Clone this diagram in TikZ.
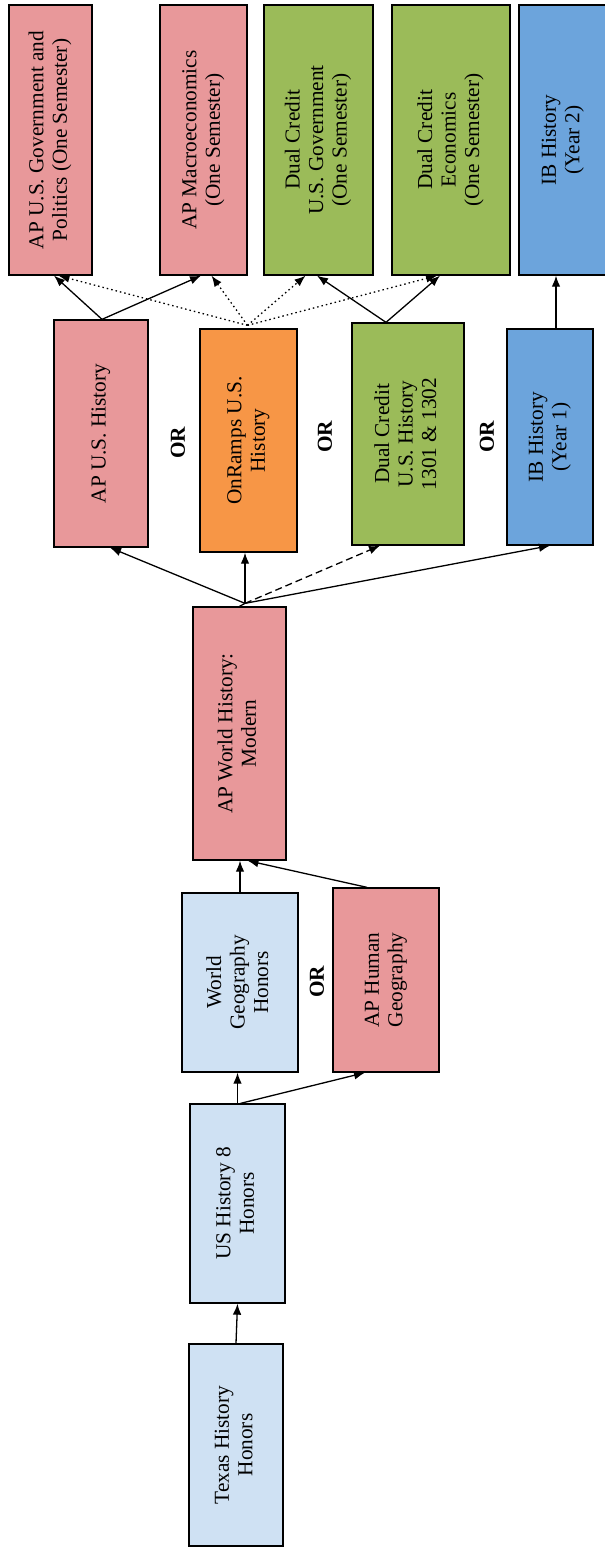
\documentclass[tikz,border=0pt]{standalone}
\usepackage{fontspec}
\setmainfont{Liberation Serif}
\usetikzlibrary{arrows.meta,calc}
\definecolor{pinkc}{HTML}{E8989A}
\definecolor{lblue}{HTML}{CFE1F3}
\definecolor{greenc}{HTML}{9BBB59}
\definecolor{orangec}{HTML}{F79646}
\definecolor{bluec}{HTML}{6CA4DC}
\newcommand{\rtx}[1]{\rotatebox{90}{\begin{tabular}{@{}c@{}}#1\end{tabular}}}
\begin{document}
\begin{tikzpicture}[x=1pt,y=-1pt,
  box/.style={draw=black, line width=1.3pt, inner sep=0pt, text=black, font=\fontsize{21.3}{23.5}\selectfont},
  orlab/.style={inner sep=0pt, font=\fontsize{21.3}{23.5}\selectfont\bfseries},
  arr/.style={-{Latex[length=11pt,width=8.5pt]}, line width=1.3pt},
  dotarr/.style={arr, dash pattern=on 1.5pt off 3pt},
  dasharr/.style={arr, dash pattern=on 7pt off 4pt}]
\useasboundingbox (0,0) rectangle (605,1548);
% top row
\node[box, fill=pinkc, minimum width=83pt, minimum height=270pt] (apgov) at (50.5,140) {\rtx{AP U.S. Government and\\Politics (One Semester)}};
\node[box, fill=pinkc, minimum width=87pt, minimum height=270pt] (apmacro) at (203.5,140) {\rtx{AP Macroeconomics\\(One Semester)}};
\node[box, fill=greenc, minimum width=109pt, minimum height=270pt] (dcgov) at (318.5,140) {\rtx{Dual Credit\\U.S. Government\\(One Semester)}};
\node[box, fill=greenc, minimum width=118pt, minimum height=270pt] (dcecon) at (451,140) {\rtx{Dual Credit\\Economics\\(One Semester)}};
\node[box, fill=bluec, minimum width=88pt, minimum height=270pt] (ibtwo) at (563,140) {\rtx{IB History\\(Year 2)}};
% second row
\node[box, fill=pinkc, minimum width=94pt, minimum height=227pt] (apush) at (101,433.5) {\rtx{AP U.S. History}};
\node[box, fill=orangec, minimum width=97pt, minimum height=223pt] (onramps) at (248.5,440.5) {\rtx{OnRamps U.S.\\History}};
\node[box, fill=greenc, minimum width=112pt, minimum height=222pt] (dchist) at (408,434) {\rtx{Dual Credit\\U.S. History\\1301 \& 1302}};
\node[box, fill=bluec, minimum width=86pt, minimum height=216pt] (ibone) at (550,437) {\rtx{IB History\\(Year 1)}};
\node[orlab] (orA) at (178,443) {\rotatebox{90}{OR}};
\node[orlab] (orB) at (325,437) {\rotatebox{90}{OR}};
\node[orlab] (orC) at (487,437) {\rotatebox{90}{OR}};
% lower part
\node[box, fill=pinkc, minimum width=93pt, minimum height=253pt] (apworld) at (239.5,733.5) {\rtx{AP World History:\\Modern}};
\node[box, fill=lblue, minimum width=116pt, minimum height=179pt] (worldgeo) at (240,982.5) {\rtx{World\\Geography\\Honors}};
\node[box, fill=pinkc, minimum width=106pt, minimum height=184pt] (aphg) at (386,980) {\rtx{AP Human\\Geography}};
\node[orlab] (orD) at (317,982) {\rotatebox{90}{OR}};
\node[box, fill=lblue, minimum width=95pt, minimum height=199pt] (useight) at (237.5,1203.5) {\rtx{US History 8\\Honors}};
\node[box, fill=lblue, minimum width=94pt, minimum height=202pt] (texas) at (236,1445) {\rtx{Texas History\\Honors}};
% connectors
\draw[arr] (texas.north) -- (useight.south);
\draw[arr] (useight.north) -- (useight.north |- worldgeo.south);
\draw[arr] ([xshift=3pt]useight.north) -- ([xshift=-21pt]aphg.south);
\draw[arr] (worldgeo.north) -- (worldgeo.north |- apworld.south);
\draw[arr] ([xshift=-19pt]aphg.north) -- ([xshift=8pt]apworld.south);
\coordinate (fan) at ([xshift=5.5pt,yshift=3pt]apworld.north);
\draw[line width=1.3pt] (apworld.north) -- (fan);
\draw[arr] (fan) -- ([xshift=9pt]apush.south);
\draw[arr] (fan) -- ([xshift=-3.5pt]onramps.south);
\draw[dasharr] (fan) -- ([xshift=-28pt]dchist.south);
\draw[arr] (fan) -- (ibone.south);
\draw[arr] ([xshift=1pt]apush.north) -- ([xshift=3.5pt]apgov.south);
\draw[arr] ([xshift=1pt]apush.north) -- ([xshift=-2.5pt]apmacro.south);
\coordinate (ofan) at ([xshift=-1pt,yshift=3pt]onramps.north);
\draw[dotarr] (ofan) -- ([xshift=8pt]apgov.south);
\draw[dotarr] (ofan) -- ([xshift=8pt]apmacro.south);
\draw[dotarr] (ofan) -- ([xshift=-13pt]dcgov.south);
\draw[dotarr] (ofan) -- ([xshift=-14pt]dcecon.south);
\draw[arr] ([xshift=-22pt]dchist.north) -- ([xshift=-1.5pt]dcgov.south);
\draw[arr] ([xshift=-22pt]dchist.north) -- ([xshift=-11pt]dcecon.south);
\draw[arr] ([xshift=6pt]ibone.north) -- ([xshift=6pt]ibone.north |- ibtwo.south);
\end{tikzpicture}
\end{document}
